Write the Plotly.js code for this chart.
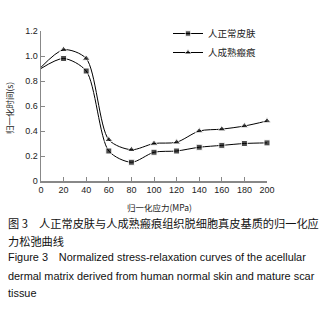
<!DOCTYPE html>
<html>
<head>
<meta charset="utf-8">
<script src="https://cdn.plot.ly/plotly-3.0.1.min.js"></script>
<style>html,body{margin:0;padding:0;background:#fff;}#chart{width:333px;height:311px;}</style>
</head>
<body>
<div id="chart"></div>
<script>
const stress = [0, 20, 40, 60, 80, 100, 120, 140, 160, 180, 200];
const normalSkin = [0.90, 0.98, 0.88, 0.24, 0.15, 0.23, 0.24, 0.27, 0.285, 0.30, 0.305];
const matureScar = [0.91, 1.05, 0.98, 0.33, 0.25, 0.30, 0.31, 0.40, 0.415, 0.44, 0.48];
const seriesNames = ['人正常皮肤', '人成熟瘢痕'];
const xTicks = [0, 20, 40, 60, 80, 100, 120, 140, 160, 180, 200];
const yTickVals = [0, 0.2, 0.4, 0.6, 0.8, 1.0, 1.2];
const yTickText = ['0', '0.2', '0.4', '0.6', '0.8', '1.0', '1.2'];
const xTitle = '归一化应力(MPa)';
const yTitle = '归一化时间(s)';
const captionLines = [
  '图 3　人正常皮肤与人成熟瘢痕组织脱细胞真皮基质的归一化应',
  '力松弛曲线',
  'Figure 3　Normalized stress-relaxation curves of the acellular',
  'dermal matrix derived from human normal skin and mature scar',
  'tissue'
];

const W = 333, H = 311;
const L = 41, R = 267, T = 31, B = 181;
const px = x => (x - L) / (R - L);
const py = y => (B - y) / (B - T);

const cjk = '"Noto Sans CJK SC", "Liberation Sans", Arial, sans-serif';
const lat = '"Liberation Sans", Arial, "Noto Sans CJK SC", sans-serif';

function mk(x, y, name, sym) {
  return {
    x: x, y: y, name: name, type: 'scatter', mode: 'lines+markers',
    line: {color: '#000', width: 1, shape: 'spline', smoothing: 0.8},
    marker: {symbol: sym, size: 6, color: '#000'},
    cliponaxis: false
  };
}
const tr1 = mk(stress, normalSkin, seriesNames[0], 'square');
const tr2 = mk(stress, matureScar, seriesNames[1], 'triangle-up');
tr1.marker.size = stress.map(v => v === 0 ? 0 : 6);
tr2.marker.size = stress.map(v => v === 0 ? 0 : 7);

const annotations = [];
const capY = [222.7, 240.7, 257.3, 275.7, 292.7];
captionLines.forEach((t, i) => {
  annotations.push({
    text: t, xref: 'paper', yref: 'paper', x: px(6), y: py(capY[i]),
    xanchor: 'left', yanchor: 'middle', showarrow: false,
    font: {family: i < 2 ? cjk : lat, size: i < 2 ? 11.2 : 10.9, color: '#111'}
  });
});
annotations.push({
  text: xTitle, xref: 'paper', yref: 'paper', x: px(159), y: py(207),
  xanchor: 'center', yanchor: 'middle', showarrow: false,
  font: {family: cjk, size: 8.5, color: '#222'}
});
annotations.push({
  text: yTitle, xref: 'paper', yref: 'paper', x: px(9), y: py(108),
  xanchor: 'center', yanchor: 'middle', showarrow: false, textangle: -90,
  font: {family: cjk, size: 8.5, color: '#222'}
});

const layout = {
  width: W, height: H,
  margin: {l: L, r: W - R, t: T, b: H - B, pad: 0},
  paper_bgcolor: '#fff', plot_bgcolor: '#fff',
  showlegend: true,
  legend: {
    x: px(168), y: py(19), xanchor: 'left', yanchor: 'top',
    font: {family: cjk, size: 9.5, color: '#222'},
    bgcolor: 'rgba(0,0,0,0)', itemwidth: 30, tracegroupgap: 0
  },
  xaxis: {
    range: [0, 200], tickvals: xTicks, ticktext: xTicks.map(String),
    showgrid: false, zeroline: false, showline: true, linecolor: '#888', linewidth: 1.5,
    ticks: 'inside', ticklen: 4, tickcolor: '#888', tickwidth: 1,
    tickfont: {family: lat, size: 9, color: '#222'}, fixedrange: true
  },
  yaxis: {
    range: [0, 1.2], tickvals: yTickVals, ticktext: yTickText,
    showgrid: false, zeroline: false, showline: true, linecolor: '#888', linewidth: 1.5,
    ticks: 'inside', ticklen: 4, tickcolor: '#888', tickwidth: 1,
    tickfont: {family: lat, size: 9, color: '#222'}, fixedrange: true
  },
  annotations: annotations
};
Plotly.newPlot('chart', [tr1, tr2], layout, {staticPlot: true, displayModeBar: false});
</script>
</body>
</html>
